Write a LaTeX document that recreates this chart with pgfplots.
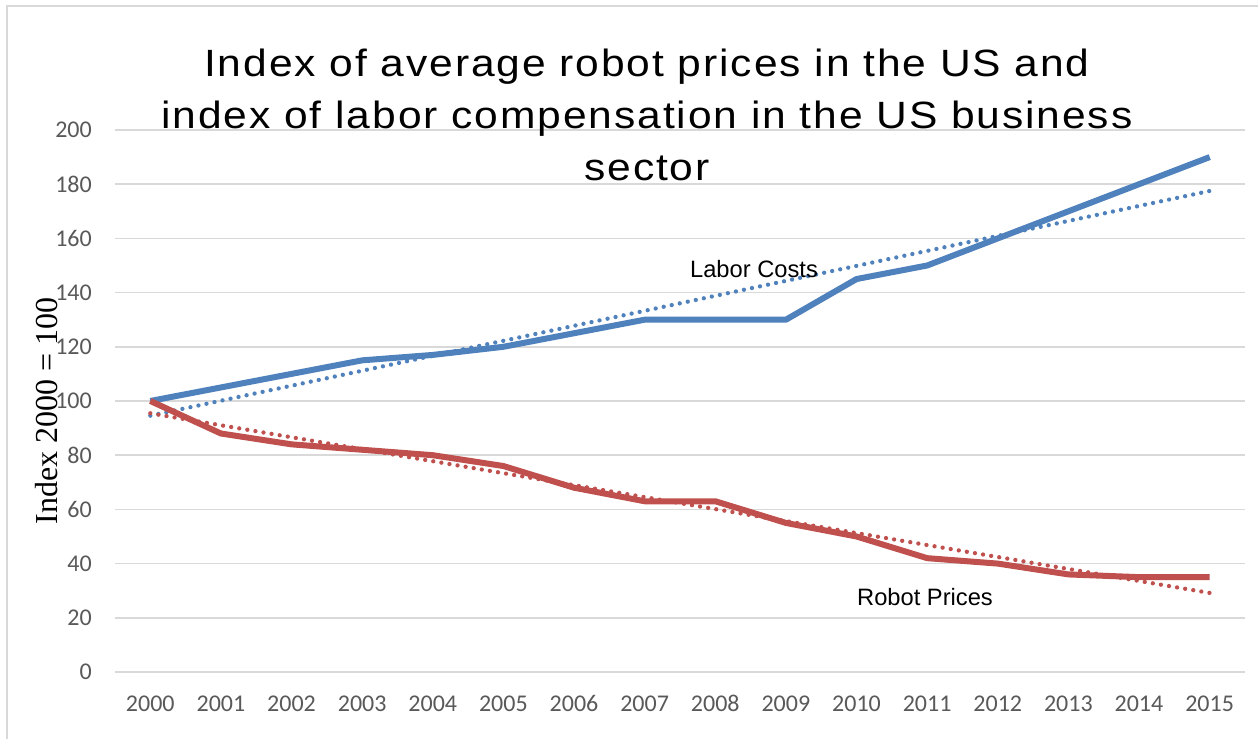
\documentclass[border=0pt]{standalone}
\usepackage{fontspec}
\setmainfont{Liberation Sans}
\newfontfamily\carlito{Carlito}
\newfontfamily\timesf{Liberation Serif}
\newfontfamily\titlefont[LetterSpace=5,FakeStretch=1.12]{Liberation Sans}
\usepackage{pgfplots}
\pgfplotsset{compat=1.18}
\definecolor{lblue}{HTML}{4F81BD}
\definecolor{lred}{HTML}{C0504D}
\definecolor{gridc}{HTML}{D9D9D9}
\definecolor{tickc}{HTML}{595959}
\begin{document}
\begin{tikzpicture}[x=1bp,y=1bp]
\useasboundingbox (0,0) rectangle (1258,739);
\fill[white] (0,0) rectangle (1258,739);
\draw[gridc, line width=2bp] (7,0) -- (7,733) -- (1258,733);
\begin{axis}[
  at={(115bp,67bp)}, anchor=south west,
  scale only axis, width=1130bp, height=542bp,
  xmin=1999.5, xmax=2015.5, ymin=0, ymax=200,
  xtick={2000,...,2015}, ytick={0,20,...,200},
  /pgf/number format/1000 sep={},
  /pgf/number format/assume math mode=true,
  axis line style={draw=none}, tick style={draw=none},
  ymajorgrids, grid style={gridc, line width=1.5bp},
  every tick label/.append style={font=\carlito\fontsize{24bp}{28bp}\selectfont, text=tickc, inner sep=0pt},
  yticklabel style={anchor=east, xshift=-23bp},
  xticklabel style={anchor=base, yshift=-40bp},
  ylabel={Index 2000 = 100},
  ylabel style={font=\timesf\fontsize{32bp}{36bp}\selectfont, at={(rel axis cs:-0.0602,0.4816)}, anchor=center, rotate=0},
  clip=false,
]
% trendlines (linear fits)
\addplot[lblue, line width=4.3bp, line cap=round, dash pattern=on 0bp off 8.2bp] coordinates {(2000,94.58) (2015,177.5)};
\addplot[lred, line width=4.3bp, line cap=round, dash pattern=on 0bp off 8.2bp] coordinates {(2000,95.46) (2015,29.17)};
% labor costs
\addplot[lblue, line width=6bp, line join=round] coordinates {
(2000,100) (2001,105) (2002,110) (2003,115) (2004,117) (2005,120) (2006,125) (2007,130)
(2008,130) (2009,130) (2010,145) (2011,150) (2012,160) (2013,170) (2014,180) (2015,190)};
% robot prices
\addplot[lred, line width=6bp, line join=round] coordinates {
(2000,100) (2001,88) (2002,84) (2003,82) (2004,80) (2005,76) (2006,68) (2007,63)
(2008,63) (2009,55) (2010,50) (2011,42) (2012,40) (2013,36) (2014,35) (2015,35)};
\end{axis}
\node[font=\titlefont\fontsize{38bp}{52bp}\selectfont, align=center, text=black] at (647,624)
  {Index of average robot prices in the US and\\index of labor compensation in the US business\\sector};
\node[font=\fontsize{23.7bp}{28bp}\selectfont] at (754,470) {Labor Costs};
\node[font=\fontsize{23.7bp}{28bp}\selectfont] at (925,142) {Robot Prices};
\end{tikzpicture}
\end{document}
